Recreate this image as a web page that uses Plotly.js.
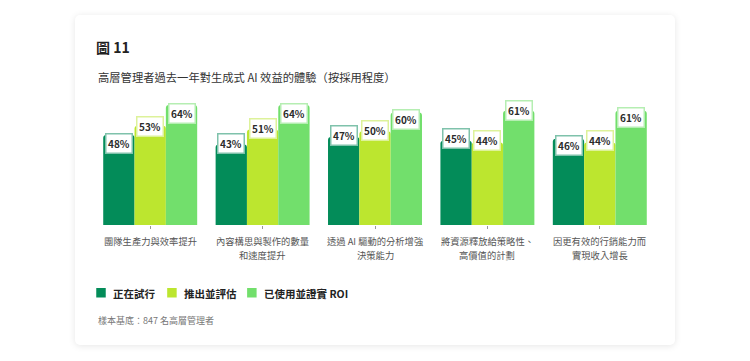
<!DOCTYPE html>
<html><head><meta charset="utf-8">
<script src="https://cdn.plot.ly/plotly-3.0.1.min.js"></script>
<style>
html,body{margin:0;padding:0;background:#fff;}
#wrap{position:relative;width:750px;height:361px;overflow:hidden;}
#card{position:absolute;left:75px;top:15px;width:600px;height:330px;background:#fff;border-radius:5px;box-shadow:0 1px 7px rgba(0,0,0,0.10);}
#chart{position:absolute;left:0;top:0;width:750px;height:361px;}
</style></head>
<body><div id="wrap"><div id="card"></div><div id="chart"></div></div>
<script>
const categories = ["團隊生產力與效率提升", "內容構思與製作的數量<br>和速度提升", "透過 AI 驅動的分析增強<br>決策能力", "將資源釋放給策略性、<br>高價值的計劃", "因更有效的行銷能力而<br>實現收入增長"];
const seriesNames = ["正在試行", "推出並評估", "已使用並證實 ROI"];
const piloting = [48, 43, 47, 45, 46];
const deploying = [53, 51, 50, 44, 44];
const provenRoi = [64, 64, 60, 61, 61];
const titleText = "圖 11";
const subtitleText = "高層管理者過去一年對生成式 AI 效益的體驗（按採用程度）";
const footnoteText = "樣本基底：847 名高層管理者";

// label placement tweaks (px below bar top), per series per category
const labelDrop = [[8, -1, -1, -2, 7], [1, -1, -1, -2, -2], [8, 8, 7, 0, 7]];

const colors = ["#038C59", "#BCE62F", "#72DF6C"];
const borders = ["#7FC2AB", "#DDF29A", "#B5EEB2"];
const allSeries = [piloting, deploying, provenRoi];

const W = 750, H = 361, ml = 93.75, mr = 93.75, mt = 105, mb = 136;
const px2x = p => (p - ml) / (W - ml - mr);
const py2y = p => (H - mb - p) / (H - mt - mb);
const FONT = '"Noto Sans CJK TC", "Noto Sans", sans-serif';

const traces = allSeries.map((vals, i) => ({
  type: 'bar', name: seriesNames[i], x: categories, y: vals,
  marker: {color: colors[i], cornerradius: 3},
  showlegend: false, hoverinfo: 'skip'
}));

const annotations = [];
const offsets = [-1, 0, 1];
allSeries.forEach((vals, i) => {
  vals.forEach((v, j) => {
    annotations.push({
      x: j, xref: 'x', y: v, yref: 'y', xshift: offsets[i] * 31.3,
      yshift: -labelDrop[i][j], text: '<b>' + v + '%</b>', showarrow: false,
      font: {family: FONT, size: 10, color: '#2b2b2b'},
      bgcolor: '#ffffff', bordercolor: borders[i], borderwidth: 1.5, borderpad: 1.5
    });
  });
});

// category labels, one annotation per line
categories.forEach((c, j) => {
  c.split('<br>').forEach((line, k) => {
    annotations.push({x: j, xref: 'x', y: py2y(241 + 14 * k), yref: 'paper',
      xanchor: 'center', yanchor: 'middle', showarrow: false, text: line,
      font: {family: FONT, size: 9.3, color: '#555'}});
  });
});

// legend
const legendX = [96, 167, 247];
const shapes = [];
seriesNames.forEach((n, i) => {
  shapes.push({type: 'rect', xref: 'paper', yref: 'paper',
    x0: px2x(legendX[i]), x1: px2x(legendX[i] + 9.5),
    y0: py2y(297.5), y1: py2y(288), fillcolor: colors[i], line: {width: 0}});
  annotations.push({xref: 'paper', yref: 'paper', x: px2x(legendX[i] + 15), y: py2y(293),
    xanchor: 'left', yanchor: 'middle', showarrow: false,
    text: '<b>' + n + '</b>', font: {family: FONT, size: 10.5, color: '#222'}});
});

annotations.push({xref: 'paper', yref: 'paper', x: px2x(96), y: py2y(77),
  xanchor: 'left', yanchor: 'middle', showarrow: false, text: subtitleText,
  font: {family: FONT, size: 11.3, color: '#333'}});
annotations.push({xref: 'paper', yref: 'paper', x: px2x(96), y: py2y(320),
  xanchor: 'left', yanchor: 'middle', showarrow: false, text: footnoteText,
  font: {family: FONT, size: 9, color: '#777'}});

const layout = {
  width: W, height: H,
  margin: {l: ml, r: mr, t: mt, b: mb, pad: 0},
  paper_bgcolor: 'rgba(0,0,0,0)', plot_bgcolor: 'rgba(0,0,0,0)',
  title: {text: '<b>' + titleText + '</b>', x: 96 / W, xanchor: 'left', xref: 'container',
    y: 1 - 48 / H, yanchor: 'middle', yref: 'container',
    font: {family: FONT, size: 14, color: '#222'}},
  barmode: 'group', bargap: 0.164, bargroupgap: 0,
  xaxis: {type: 'category', showgrid: false, zeroline: false, showline: false,
    showticklabels: false, automargin: false,
    ticks: 'outside', ticklen: 3, tickcolor: '#999', tickwidth: 1},
  yaxis: {range: [0, 64], visible: false, showgrid: false, zeroline: false, fixedrange: true},
  annotations: annotations, shapes: shapes,
  font: {family: FONT}
};
Plotly.newPlot('chart', traces, layout, {staticPlot: true, displayModeBar: false});
</script></body></html>
